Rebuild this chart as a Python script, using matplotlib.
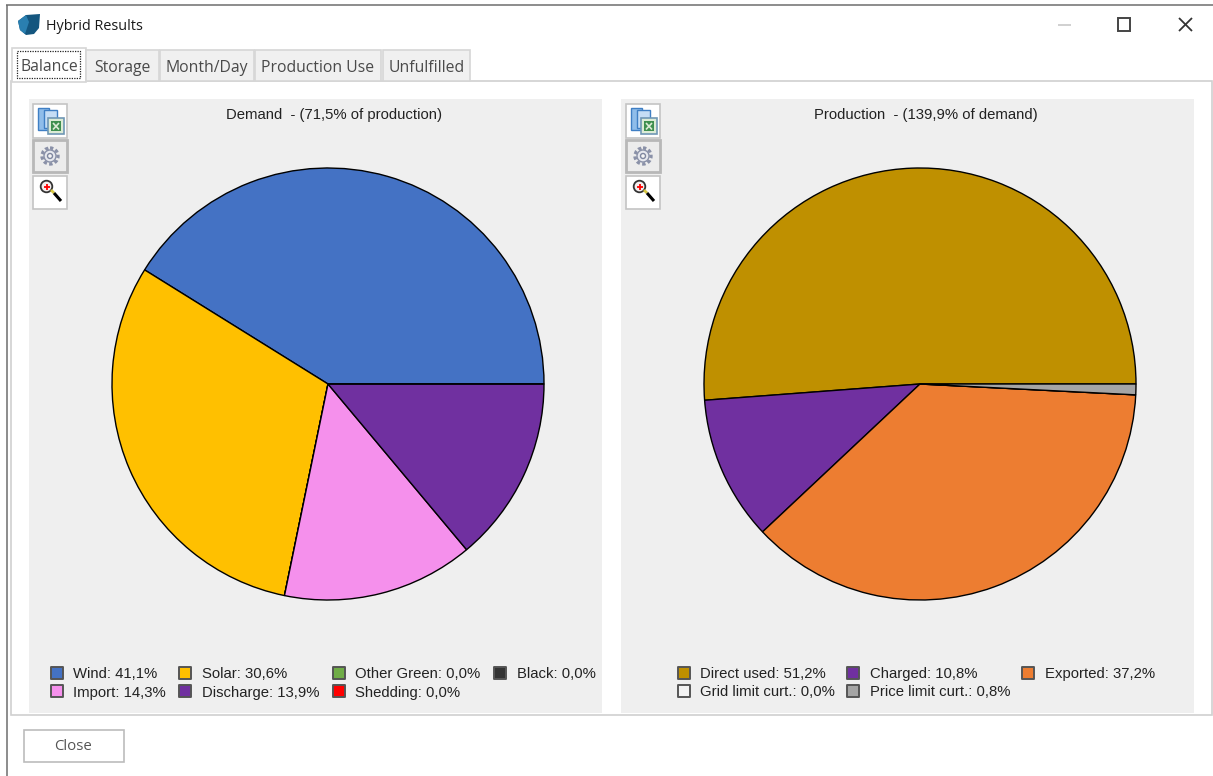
import matplotlib
matplotlib.use('Agg')
import matplotlib.pyplot as plt
from matplotlib.lines import Line2D
from matplotlib.markers import MarkerStyle
from matplotlib.patches import Rectangle, Polygon, Circle

W, H = 1213, 776

# Dados do primeiro gráfico (Demand)
demand_labels = ['Wind', 'Solar', 'Other Green', 'Black', 'Import', 'Discharge', 'Shedding']
demand_values = [41.1, 30.6, 0.0, 0.0, 14.3, 13.9, 0.0]
demand_colors = ['#4472c4', '#ffc000', '#70ad47', '#333333', '#f590ec', '#7030a0', '#ff0000']
demand_title = 'Demand  - (71,5% of production)'

# Dados do segundo gráfico (Production)
production_labels = ['Direct used', 'Charged', 'Exported', 'Grid limit curt.', 'Price limit curt.']
production_values = [51.2, 10.8, 37.2, 0.0, 0.8]
production_colors = ['#bf9000', '#7030a0', '#ed7d31', '#f2f2f2', '#a5a5a5']
production_title = 'Production  - (139,9% of demand)'

tab_names = ['Balance', 'Storage', 'Month/Day', 'Production Use', 'Unfulfilled']
tab_lefts = [12, 86, 160, 255, 383]
tab_rights = [86, 159, 254, 381, 470]

plt.rcParams['font.family'] = ['Liberation Sans', 'DejaVu Sans']
fig = plt.figure(figsize=(W / 100, H / 100), dpi=100, facecolor='white')

# Eixo de fundo em pixels para a janela
bg = fig.add_axes([0, 0, 1, 1], zorder=0)
bg.set_xlim(0, W)
bg.set_ylim(H, 0)
bg.axis('off')


def rect(x0, y0, x1, y1, fc='none', ec='none', lw=1, **kw):
    bg.add_patch(Rectangle((x0, y0), x1 - x0, y1 - y0, facecolor=fc, edgecolor=ec, linewidth=lw, **kw))


def line(xs, ys, color, lw=1, **kw):
    bg.plot(xs, ys, color=color, lw=lw, solid_capstyle='butt', **kw)


def draw_toolbar(x0):
    # Botão do Excel
    rect(x0, 104, x0 + 34, 138, fc='white', ec='#c4c4c4', lw=1.2)
    rect(x0 + 5, 108, x0 + 16, 130, fc='#8fbdea', ec='#3f7fc4', lw=1)
    rect(x0 + 11, 110, x0 + 24, 128, fc='#c5ddf5', ec='#3f7fc4', lw=1)
    rect(x0 + 15, 118, x0 + 31, 134, fc='#dcebd6', ec='#6f97b5', lw=1.2)
    rect(x0 + 18, 121, x0 + 28, 131, fc='#3f8f4f')
    line([x0 + 20, x0 + 26], [123, 129.5], '#dcebd6', lw=1.2)
    line([x0 + 20, x0 + 26], [129.5, 123], '#dcebd6', lw=1.2)
    # Botão de configuração
    rect(x0, 140, x0 + 34, 172, fc='#ececec', ec='#b8b8b8', lw=2)
    bg.add_patch(Circle((x0 + 17, 156), 8, facecolor='none', edgecolor='#8a91a8', lw=2.4, ls=(0, (1.0, 0.7))))
    bg.add_patch(Circle((x0 + 17, 156), 6, facecolor='#e6e8ee', edgecolor='#8a91a8', lw=1))
    bg.add_patch(Circle((x0 + 17, 156), 2.5, facecolor='#f5f5f5', edgecolor='#7f87a0', lw=1))
    # Botão de zoom
    rect(x0, 176, x0 + 34, 209, fc='white', ec='#c4c4c4', lw=1.2)
    line([x0 + 18, x0 + 21], [190, 193], '#d8c840', lw=2)
    line([x0 + 21, x0 + 28], [193, 201], 'black', lw=2.2)
    bg.add_patch(Circle((x0 + 13.5, 186.5), 5.8, facecolor='#f4eeee', edgecolor='#333333', lw=1.3))
    line([x0 + 10.5, x0 + 16.5], [186.5, 186.5], 'red', lw=1.3)
    line([x0 + 13.5, x0 + 13.5], [183.5, 189.5], 'red', lw=1.3)


# Moldura da janela
line([6, W], [5, 5], '#6e6e6e', lw=1.1)
line([6.5, 6.5], [5, H], '#6e6e6e', lw=1.1)
bg.add_patch(Polygon([(18, 21), (26, 15), (40, 14), (39, 28), (34, 34), (26, 35), (20, 30)], facecolor='#14567f', edgecolor='none'))
bg.add_patch(Polygon([(18, 21), (26, 15), (29, 22), (25, 34), (20, 30)], facecolor='#2a7fb0', edgecolor='none'))
bg.text(46, 26, 'Hybrid Results', fontsize=10.4, family='Open Sans', color='#1a1a1a', va='center')

# Botões da janela
line([1058, 1071], [25, 25], '#c8c8c8', lw=1.2)
rect(1118, 18, 1130, 31, ec='#444444', lw=1.4)
line([1179, 1192], [18, 31], '#333333', lw=1.3)
line([1179, 1192], [31, 18], '#333333', lw=1.3)

# Painel das abas
rect(10.5, 81, W - 1, 715, fc='white', ec='#d0d0d0', lw=1.2)

for nome, esq, dir_ in zip(tab_names, tab_lefts, tab_rights):
    ativa = nome == tab_names[0]
    topo = 48 if ativa else 50
    fundo = 82 if ativa else 81
    rect(esq, topo, dir_, fundo, fc='white' if ativa else '#f0f0f0', ec='#d6d6d6', lw=1.2, zorder=3)
    bg.text((esq + dir_) / 2, 67 if ativa else 68, nome, fontsize=11.3, family='Open Sans',
            color='#4a4a4a', ha='center', va='center', zorder=4)
rect(17, 51, 80, 78, ec='#222222', lw=0.9, ls=(0, (1, 1)), zorder=4)

# Fundos dos gráficos
rect(29, 99, 602, 713, fc='#efefef')
rect(621, 99, 1194, 713, fc='#efefef')

draw_toolbar(33)
draw_toolbar(626)

# Botão Close
rect(23.5, 729.5, 124, 762, fc='white', ec='#bcbcbc', lw=1.2)
bg.text(73, 746.5, 'Close', fontsize=10.8, family='Open Sans', color='#555555', ha='center', va='center')


def draw_pie(cx, titulo, tx, labels, values, colors, leg_x, leg_spacing):
    r = 216
    ax = fig.add_axes([(cx - r) / W, 1 - (384 + r) / H, 2 * r / W, 2 * r / H], zorder=2)
    ax.pie(values, colors=colors, startangle=0, counterclock=True, radius=1,
           wedgeprops={'edgecolor': 'black', 'linewidth': 1.0})
    ax.set_xlim(-1, 1)
    ax.set_ylim(-1, 1)
    bg.text(tx, 114.5, titulo, fontsize=10.7, color='#222222', ha='center', va='center')

    handles = []
    for label, value, cor in zip(labels, values, colors):
        texto = f'{value:.1f}'.replace('.', ',')
        handles.append(Line2D([], [], ls='none', marker=MarkerStyle('s', joinstyle='round'), markersize=8.2,
                              markerfacecolor=cor, markeredgecolor='#555555', markeredgewidth=1.4,
                              label=f'{label}: {texto}%'))
    # As colunas da legenda são preenchidas de cima para baixo
    n_col = (len(handles) + 1) // 2
    ordem = []
    for c in range(n_col):
        ordem.append(handles[c])
        if n_col + c < len(handles):
            ordem.append(handles[n_col + c])
    leg = fig.legend(handles=ordem, ncol=n_col, loc='lower left',
                     bbox_to_anchor=(leg_x / W, 1 - 699.5 / H), frameon=False, fontsize=10.7,
                     labelcolor='#222222', handlelength=0.75, handletextpad=0.75,
                     columnspacing=leg_spacing, labelspacing=0.3, borderpad=0, borderaxespad=0)
    leg.set_zorder(5)


draw_pie(328, demand_title, 334, demand_labels, demand_values, demand_colors, 51, 0.92)
draw_pie(920, production_title, 926, production_labels, production_values, production_colors, 678, 0.82)

fig.savefig('out.png', dpi=100)
